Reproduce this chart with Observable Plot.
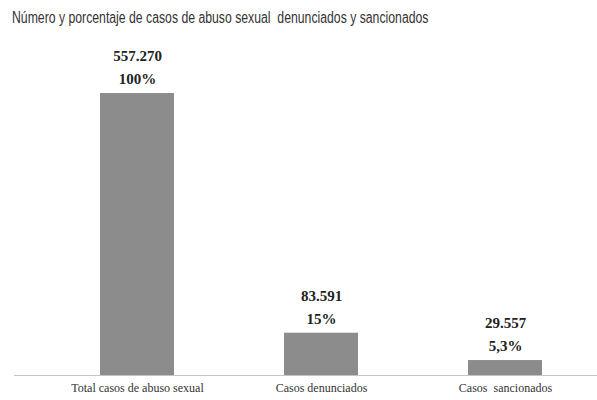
<!DOCTYPE html>
<html><head><meta charset="utf-8">
<script src="https://cdn.jsdelivr.net/npm/d3@7"></script>
<script src="https://cdn.jsdelivr.net/npm/@observablehq/plot@0.6"></script>
<style>
body{margin:0;background:#fff;width:597px;height:400px;overflow:hidden}
#title{height:40px;position:relative}
#title span{position:absolute;left:12px;top:9px;font-family:"Liberation Sans",Arial,sans-serif;font-size:16px;color:#333;white-space:pre;transform:scaleX(0.765);transform-origin:left top;}
</style></head>
<body>
<div id="title"><span>Número y porcentaje de casos de abuso sexual  denunciados y sancionados</span></div>
<div id="chart"></div>
<script>
const categories = ["Total casos de abuso sexual", "Casos denunciados", "Casos  sancionados"];
const values = [557270, 83591, 29557];
const valueLabels = ["557.270", "83.591", "29.557"];
const percentLabels = ["100%", "15%", "5,3%"];

const data = categories.map((c, i) => ({cat: c, value: values[i], num: valueLabels[i], pct: percentLabels[i]}));

const chart = Plot.plot({
  width: 597,
  height: 360,
  marginLeft: 14,
  marginRight: 0,
  marginTop: 53,
  marginBottom: 25,
  style: {fontFamily: "'Liberation Serif', 'Times New Roman', serif", background: "#fff"},
  x: {domain: categories, paddingInner: 0.6, paddingOuter: 0.38, align: 0.61, label: null},
  y: {domain: [0, 557270], axis: null},
  marks: [
    Plot.barY(data, {x: "cat", y: "value", fill: "#8c8c8c"}),
    Plot.ruleY([0], {stroke: "#c4c4c4", strokeWidth: 1.2}),
    Plot.text(data, {x: "cat", y: "value", text: "pct", dy: -14, fontSize: 15, fontWeight: "bold", fill: "#222"}),
    Plot.text(data, {x: "cat", y: "value", text: "num", dy: -37, fontSize: 15, fontWeight: "bold", fill: "#222"}),
    Plot.axisX({tickSize: 0, tickPadding: 8, fontSize: 12, fill: "#333", label: null})
  ]
});
document.getElementById("chart").appendChild(chart);
</script>
</body></html>
